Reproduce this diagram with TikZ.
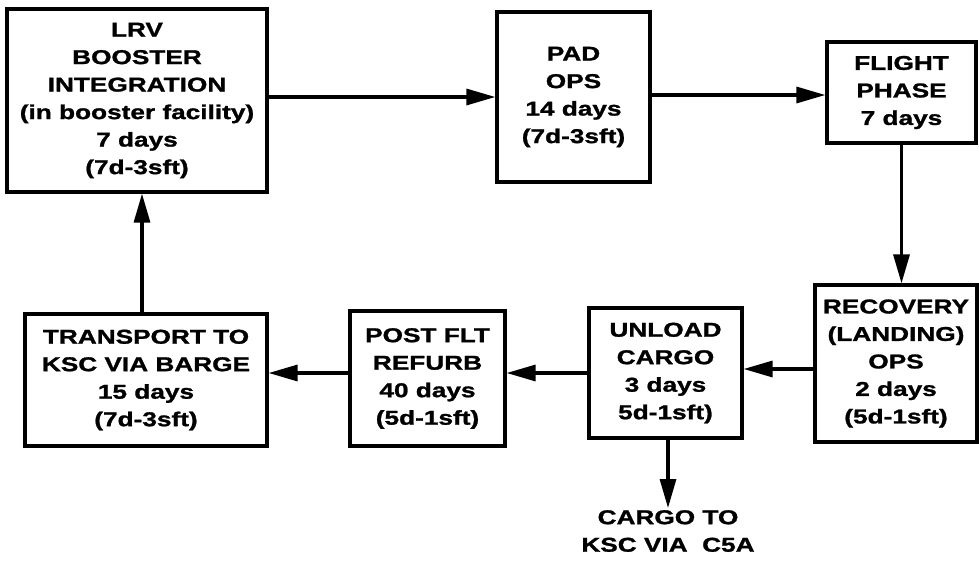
\documentclass[tikz,border=0pt]{standalone}
\usepackage{fontspec}
\setmainfont{Liberation Sans}[FakeStretch=1.31,FakeBold=1.3]
\usetikzlibrary{arrows.meta}
\begin{document}
\begin{tikzpicture}[x=1pt,y=-1pt,
  box/.style={draw, line width=3.2pt, align=center, inner sep=0pt,
    font=\fontsize{20}{27.5}\selectfont\bfseries},
  lbl/.style={align=center, inner sep=2pt,
    font=\fontsize{20}{27.5}\selectfont\bfseries},
  arr/.style={line width=3.2pt, -{Triangle[length=29pt,width=16pt]}}]
\useasboundingbox (0,0) rectangle (979,565);

\node[box, minimum width=260pt, minimum height=183pt] (lrv) at (137,100.5)
  {LRV\\BOOSTER\\INTEGRATION\\(in booster facility)\\7 days\\(7d-3sft)};
\node[box, minimum width=153pt, minimum height=170pt] (pad) at (573.5,97)
  {PAD\\OPS\\14 days\\(7d-3sft)};
\node[box, minimum width=149pt, minimum height=101pt] (flight) at (901.5,92.5)
  {FLIGHT\\PHASE\\7 days};
\node[box, minimum width=162pt, minimum height=157pt] (recovery) at (896,363.5)
  {RECOVERY\\(LANDING)\\OPS\\2 days\\(5d-1sft)};
\node[box, minimum width=153pt, minimum height=130pt] (unload) at (665.5,373)
  {UNLOAD\\CARGO\\3 days\\5d-1sft)};
\node[box, minimum width=155pt, minimum height=135pt] (post) at (427.5,378.5)
  {POST FLT\\REFURB\\40 days\\(5d-1sft)};
\node[box, minimum width=242pt, minimum height=132pt] (transport) at (146,380)
  {TRANSPORT TO\\KSC VIA BARGE\\15 days\\(7d-3sft)};
\node[lbl, anchor=north] (cargo) at (668,508) {CARGO TO\\KSC VIA\ \ C5A};

\draw[arr] (lrv.east |- 0,97) -- (pad.west |- 0,97);
\draw[arr] (pad.east |- 0,95) -- (flight.west |- 0,95);
\draw[arr] (flight.south) -- (flight.south |- recovery.north);
\draw[arr] (recovery.west |- 0,369) -- (unload.east |- 0,369);
\draw[arr] (unload.west |- 0,373) -- (post.east |- 0,373);
\draw[arr] (post.west |- 0,373) -- (transport.east |- 0,373);
\draw[arr] (transport.north -| 142,0) -- (lrv.south -| 142,0);
\draw[arr] (unload.south -| 668,0) -- (cargo.north);
\end{tikzpicture}
\end{document}
